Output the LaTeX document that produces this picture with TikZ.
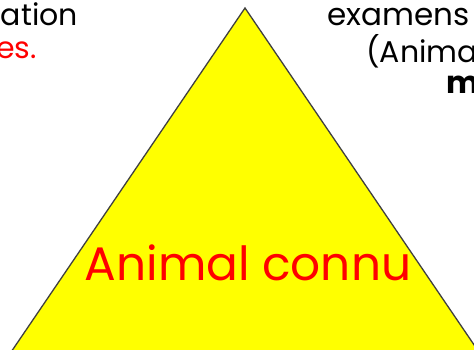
\documentclass[tikz,border=0pt]{standalone}
\usepackage{fontspec}
\setmainfont{Poppins}
\definecolor{triyellow}{RGB}{255,255,0}
\definecolor{txtred}{RGB}{255,0,0}
\begin{document}
\begin{tikzpicture}[x=1pt,y=-1pt,
  lbl/.style={inner sep=0pt, font=\fontsize{30}{34}\selectfont},
  redlbl/.style={lbl, text=txtred}]
\useasboundingbox (0,0) rectangle (474,349);
\clip (0,0) rectangle (474,349);
\fill[white] (0,0) rectangle (474,349);
\coordinate (apex) at (245,8);
\coordinate (bl) at (-10,383);
\coordinate (br) at (500,383);
\filldraw[fill=triyellow, draw=black!75, line width=1.3pt, line join=miter] (apex) -- (bl) -- (br) -- cycle;
\node[lbl, anchor=base east] (t1) at (78,25) {ation};
\node[redlbl, anchor=base east] (t2) at (37,58) {es.};
\node[lbl, anchor=base west, font=\fontsize{31}{34}\selectfont] (t3) at (327,25) {examens};
\node[lbl, anchor=base west] (t4) at (366,62) {(Anima};
\node[lbl, anchor=base west, font=\fontsize{31}{34}\selectfont\bfseries] (t5) at (446,93) {m};
\node[inner sep=0pt, text=txtred, anchor=base, font=\fontsize{47}{52}\selectfont] (main) at (248,280) {Animal connu};
\end{tikzpicture}
\end{document}
